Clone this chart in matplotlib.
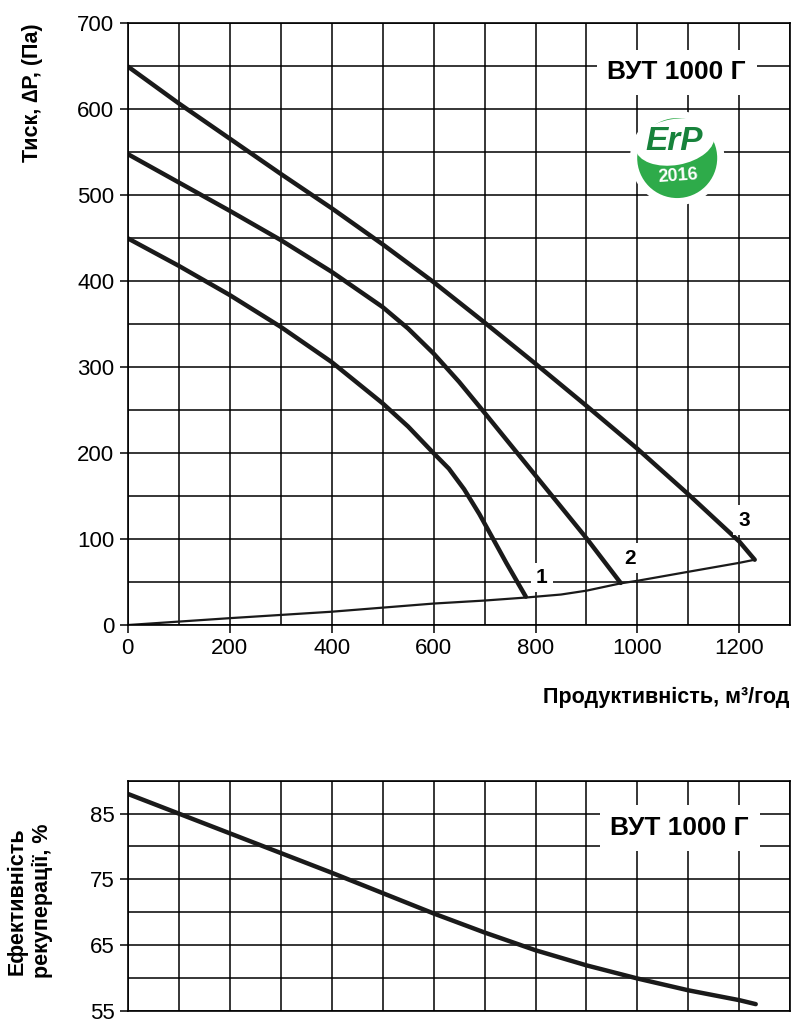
import numpy as np
import matplotlib
matplotlib.use("Agg")
import matplotlib.pyplot as plt
from matplotlib.patches import Circle, Ellipse

plt.rcParams['font.family'] = ['Liberation Sans', 'DejaVu Sans']

# fan curves 1..3, pressure (Pa) vs airflow (m3/h)
q1 = [0, 100, 200, 300, 400, 500, 550, 600, 630, 660, 690, 717, 743, 781]
p1 = [450, 418, 384, 347, 306, 258, 231, 200, 182, 158, 129, 100, 72, 33]

q2 = [0, 100, 200, 300, 400, 500, 550, 600, 650, 700, 800, 900, 967]
p2 = [548, 515, 482, 448, 411, 370, 345, 316, 283, 247, 174, 101, 49]

q3 = [0, 100, 200, 300, 400, 500, 600, 700, 800, 900, 1000, 1100, 1200, 1230]
p3 = [650, 607, 566, 525, 485, 443, 399, 352, 304, 255, 205, 152, 97, 76]

# system (network) curve
qs = [0, 200, 400, 600, 700, 781, 850, 900, 967, 1000, 1100, 1200, 1230]
ps = [0, 8, 15.5, 25, 28.5, 32, 35.5, 40, 48.5, 51.5, 62, 72.4, 76]

# heat recovery efficiency (%)
qe = [0, 100, 200, 300, 400, 500, 600, 700, 800, 900, 1000, 1100, 1200, 1232]
ef = [88.0, 85.0, 82.0, 79.0, 76.0, 72.9, 69.8, 66.9, 64.2, 61.9, 59.9, 58.1, 56.6, 56.0]

curve_labels = ['1', '2', '3']
label_pos = [(812, 55), (985, 78), (1210, 122)]
model = 'ВУТ 1000 Г'

fig = plt.figure(figsize=(8, 10.25), dpi=100)
ax1 = fig.add_axes([0.1596, 0.3902, 0.8284, 0.587])
ax2 = fig.add_axes([0.1596, 0.01395, 0.8284, 0.2244])

for ax in (ax1, ax2):
    ax.set_xlim(0, 1300)
    ax.set_xticks(np.arange(0, 1301, 100), minor=True)
    ax.grid(which='both', color='black', lw=1.1)
    ax.set_axisbelow(True)
    for s in ax.spines.values():
        s.set_linewidth(1.2)
    ax.tick_params(which='minor', length=0)
    ax.tick_params(which='major', length=6, width=1.1, labelsize=16, direction='out')

# top chart
ax1.set_ylim(0, 700)
ax1.set_xticks(np.arange(0, 1201, 200))
ax1.set_yticks(np.arange(0, 701, 100))
ax1.set_yticks(np.arange(0, 701, 50), minor=True)

for q, p in [(q1, p1), (q2, p2), (q3, p3)]:
    ax1.plot(q, p, color='#1a1a1a', lw=3.2, solid_capstyle='round', solid_joinstyle='round')
ax1.plot(qs, ps, color='#1a1a1a', lw=1.6, solid_joinstyle='round')

for lab, (x, y) in zip(curve_labels, label_pos):
    ax1.text(x, y, lab, fontsize=15, fontweight='bold', ha='center', va='center',
             bbox=dict(boxstyle='square,pad=0.25', fc='white', ec='none'))

ax1.text(1077, 643, model, fontsize=19, fontweight='bold', ha='center', va='center',
         bbox=dict(boxstyle='square,pad=0.4', fc='white', ec='none'))

fig.text(0.041, 0.9772, 'Тиск, ∆P, (Па)', rotation=90, fontsize=15.5, fontweight='bold',
         ha='center', va='top')
fig.text(0.987, 0.32, 'Продуктивність, м³/год', fontsize=15.5, fontweight='bold',
         ha='right', va='center')

# ErP logo
lg = fig.add_axes([0.784, 0.797, 0.125, 0.0976])
lg.set_xlim(-1.25, 1.25)
lg.set_ylim(-1.25, 1.25)
lg.set_aspect('equal')
lg.axis('off')
lg.add_patch(Circle((0, 0), 1.18, fc='white', ec='none'))
lg.add_patch(Circle((0, 0), 1.0, fc='#2eab4a', ec='none'))
lg.add_patch(Ellipse((-0.06, 0.4), 2.0, 1.15, angle=10, fc='white', ec='none'))
lg.text(-0.08, 0.42, 'ErP', fontsize=24, fontweight='bold', color='#17823b',
        ha='center', va='center', style='italic')
lg.text(0.03, -0.45, '2016', fontsize=13, fontweight='bold', color='white',
        ha='center', va='center', rotation=4)

# bottom chart
ax2.set_ylim(55, 90)
ax2.set_yticks([55, 65, 75, 85])
ax2.set_yticks(np.arange(55, 91, 5), minor=True)
ax2.set_xticks([])
ax2.plot(qe, ef, color='#1a1a1a', lw=3.2, solid_capstyle='round', solid_joinstyle='round')
ax2.text(1083, 82.8, model, fontsize=19, fontweight='bold', ha='center', va='center',
         bbox=dict(boxstyle='square,pad=0.4', fc='white', ec='none'))

fig.text(0.021, 0.121, 'Ефективність', rotation=90, fontsize=15.5, fontweight='bold',
         ha='center', va='center')
fig.text(0.053, 0.121, 'рекуперації, %', rotation=90, fontsize=15.5, fontweight='bold',
         ha='center', va='center')

fig.savefig('out.png', dpi=100)
